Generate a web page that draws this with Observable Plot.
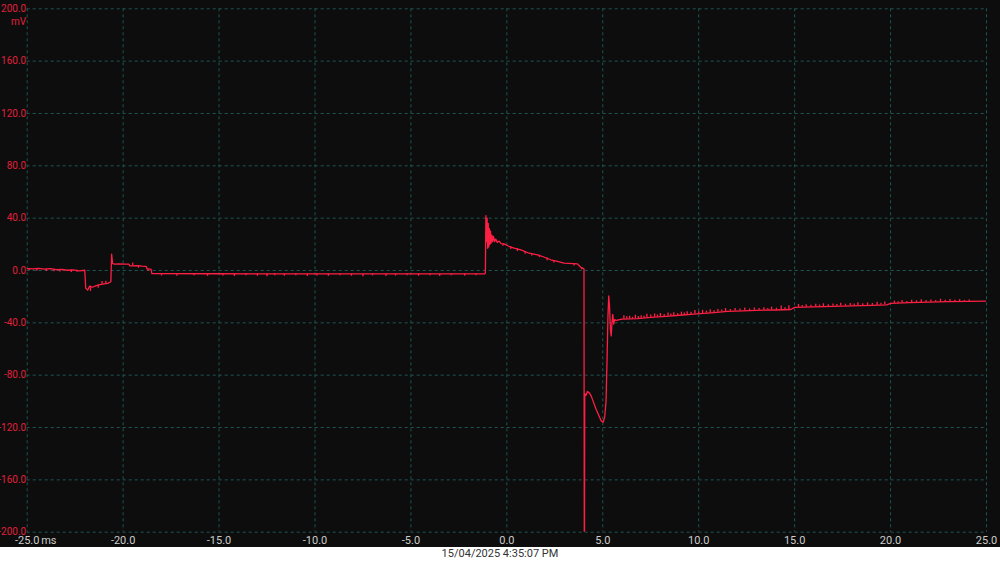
<!DOCTYPE html>
<html>
<head>
<meta charset="utf-8">
<script src="https://cdn.jsdelivr.net/npm/d3@7"></script>
<script src="https://cdn.jsdelivr.net/npm/@observablehq/plot@0.6"></script>
<style>
  html, body { margin: 0; padding: 0; background: #ffffff; }
  #chart svg { display: block; background: #0d0d0d; }
  #caption { height: 15px; line-height: 15px; text-align: center; font: 11px Roboto, sans-serif; color: #333; background: #fff; }
</style>
</head>
<body>
<div id="chart"></div>
<div id="caption"></div>
<script>
// ---- Data (time in ms, voltage in mV) ----
const xTicks = [-25, -20, -15, -10, -5, 0, 5, 10, 15, 20, 25];
const yTicks = [200, 160, 120, 80, 40, 0, -40, -80, -120, -160, -200];
const xUnit = "ms";
const yUnit = "mV";
const timestamp = "15/04/2025 4:35:07 PM";

const preTrigger = [
  [-25.0,1.5],[-24.7,1.2],[-24.4,1.6],[-24.1,1.0],[-23.8,1.4],[-23.5,0.6],[-23.2,0.9],[-22.9,0.2],
  [-22.6,0.5],[-22.3,-0.3],[-22.0,0.2],[-21.95,-13.5],[-21.85,-15],[-21.75,-12],[-21.6,-12.8],
  [-21.4,-11.5],[-21.2,-10.8],[-21.0,-10.2],[-20.8,-9.8],[-20.64,-8.6],[-20.6,12.5],[-20.55,5.5],
  [-20.45,4.8],[-20.2,5.0],[-19.9,4.8],[-19.7,4.8],[-19.65,3.6],[-19.3,3.8],[-19.0,3.4],[-18.8,3.2],
  [-18.75,1.2],[-18.55,1.0],[-18.5,-2.4]
];
const flatSegment = [
  [-18.5,-2.4],[-15.0,-2.5],[-10.0,-2.6],[-5.0,-2.6],[-1.15,-2.6]
];
const pulseDecay = [
  [-1.15,-2.6],[-1.12,-1.5],[-1.09,42],[-1.06,22],[-1.03,40],[-1.0,17],[-0.97,36],[-0.94,18],
  [-0.91,32],[-0.88,20],[-0.85,30],[-0.82,21],[-0.78,27],[-0.74,22],[-0.7,26],[-0.64,22],
  [-0.58,24],[-0.5,21.5],[-0.4,22.5],[-0.3,20.5],[-0.14,20.4],[0.1,18.5],[0.38,17.1],[0.73,15.8],
  [1.16,13.2],[1.6,12.0],[1.86,10.7],[2.29,8.2],[2.64,6.9],[2.98,5.6],[3.68,5.1],[3.85,2.5],[4.02,1.3]
];
const dropRecovery = [
  [4.02,1.3],[4.04,-260],[4.06,-94],[4.12,-95.5],[4.2,-92.5],[4.3,-93.5],[4.4,-96],[4.5,-100],
  [4.65,-106],[4.8,-111],[4.92,-115],[5.02,-116],[5.1,-112],[5.17,-100],[5.22,-70],[5.27,-35],
  [5.31,-19.5],[5.35,-27],[5.4,-45],[5.44,-50],[5.48,-40],[5.52,-33.5],[5.57,-41],[5.62,-37.5],[5.7,-38.2]
];
const tailSegment = [
  [5.7,-38.2],[6.0,-37.2],[6.8,-36.8],[7.5,-35.8],[8.3,-35.0],[9.0,-34.2],[9.9,-33.2],[10.8,-32.2],
  [11.5,-31.2],[12.3,-30.8],[13.0,-30.4],[14.0,-30.2],[14.8,-29.8],[15.0,-28.2],[16.0,-27.8],
  [17.0,-27.4],[18.0,-27.0],[19.0,-26.6],[19.8,-26.2],[20.0,-25.2],[21.0,-24.6],[22.0,-24.2],
  [23.0,-23.8],[24.0,-23.6],[25.0,-23.4]
];
// noise spikes: [time, from mV, to mV]
const noiseSpikes = [
  [-24.9,1.5,0],[-24.5,1.2,-0.5],[-24.0,1.1,-0.8],[-23.6,1.0,-1.0],[-23.3,0.8,-1.2],[-22.7,0.4,-1.5],
  [-22.4,0.2,-1.3],[-21.7,-12,-16],[-21.3,-11,-13.5],[-21.1,-10.5,-8.5],[-20.9,-10,-8.2],
  [-19.5,3.8,5.8],[-19.2,3.6,1.8],[-18.7,1.1,-0.8],
  [-18.0,-2.4,-4.2],[-17.2,-2.4,-4.4],[-16.3,-2.5,-4.0],[-15.6,-2.5,-4.5],[-14.8,-2.5,-4.2],
  [-14.2,-2.5,-4.6],[-13.6,-2.5,-4.0],[-13.0,-2.5,-4.4],[-12.5,-2.5,-4.8],[-12.1,-2.5,-4.1],
  [-11.6,-2.6,-4.4],[-11.0,-2.6,-4.0],[-10.4,-2.6,-4.6],[-9.9,-2.6,-4.2],[-9.3,-2.6,-4.5],
  [-8.7,-2.6,-4.0],[-8.1,-2.6,-4.4],[-7.5,-2.6,-4.7],[-7.0,-2.6,-4.1],[-6.3,-2.6,-4.5],
  [-5.8,-2.6,-4.2],[-5.2,-2.6,-4.0],[-4.6,-2.6,-4.4],[-4.0,-2.6,-4.1],[-3.5,-2.6,-4.6],
  [-2.9,-2.6,-4.0],[-2.2,-2.6,-4.3],[-1.6,-2.6,-4.1],
  [-0.2,20.5,18.5],[0.2,18,16],[0.55,16.5,14.5],[0.95,14.5,12.5],[1.3,12.8,11],[1.7,11.6,9.8],
  [2.1,9.5,7.5],[2.45,7.5,5.8],[3.5,5.2,3.5],[3.9,2.3,0.5],
  [6.1,-37.1,-34.6],[6.25,-37.1,-35.4],[6.4,-37.0,-35.0],[6.55,-37.0,-35.8],[6.7,-36.9,-34.2],
  [6.85,-36.8,-35.2],[7.0,-36.5,-34.5],[7.15,-36.3,-35.0],[7.3,-36.1,-33.4],[7.5,-35.8,-34.0],
  [7.7,-35.6,-33.2],[7.85,-35.5,-34.0],[8.0,-35.3,-32.8],[8.2,-35.1,-33.6],[8.4,-34.9,-32.5],
  [8.55,-34.8,-33.2],[8.7,-34.6,-32.2],[8.9,-34.3,-33.0],[9.1,-34.1,-31.8],[9.25,-34.0,-32.4],
  [9.4,-33.8,-31.5],[9.6,-33.5,-32.0],[9.8,-33.3,-30.6],[10.0,-33.1,-31.6],[10.2,-32.9,-30.4],
  [10.4,-32.6,-31.0],[10.6,-32.4,-30.0],[10.8,-32.2,-30.8],[11.0,-32.0,-29.8],[11.2,-31.6,-30.2],
  [11.4,-31.3,-29.1],[11.65,-31.1,-29.8],[11.9,-31.0,-29.0],[12.15,-30.9,-29.5],[12.4,-30.8,-28.7],
  [12.65,-30.6,-29.4],[12.9,-30.4,-28.6],[13.15,-30.4,-29.0],[13.4,-30.3,-28.4],[13.6,-30.2,-29.0],
  [13.8,-30.2,-28.0],[14.05,-30.2,-28.8],[14.3,-30.1,-27.2],[14.5,-30.0,-28.4],[14.7,-29.9,-27.0],
  [15.2,-28.1,-26.0],[15.4,-28.0,-26.8],[15.6,-28.0,-26.2],[15.85,-27.9,-26.6],[16.1,-27.8,-25.8],
  [16.3,-27.7,-26.4],[16.5,-27.6,-25.4],[16.75,-27.5,-26.2],[17.0,-27.4,-25.6],[17.2,-27.3,-26.0],
  [17.4,-27.2,-25.0],[17.65,-27.1,-25.8],[17.9,-27.0,-25.2],[18.1,-26.9,-25.6],[18.3,-26.9,-24.6],
  [18.55,-26.8,-25.4],[18.8,-26.7,-24.8],[19.05,-26.6,-25.2],[19.3,-26.5,-24.2],[19.5,-26.4,-25.0],
  [19.7,-26.3,-24.0],[20.2,-25.1,-23.4],[20.4,-25.0,-23.8],[20.6,-24.9,-23.0],[20.85,-24.8,-23.6],
  [21.1,-24.6,-22.8],[21.35,-24.5,-23.2],[21.6,-24.4,-22.4],[21.85,-24.3,-23.0],[22.1,-24.2,-22.5],
  [22.35,-24.1,-23.0],[22.6,-24.0,-22.0],[22.85,-23.9,-22.8],[23.1,-23.8,-22.1],[23.35,-23.8,-22.8],
  [23.6,-23.7,-22.3],[23.85,-23.6,-22.9],[24.1,-23.6,-22.6]
];

// ---- Build ----
const trace = [...preTrigger, ...flatSegment.slice(1), ...pulseDecay.slice(1), ...dropRecovery.slice(1), ...tailSegment.slice(1)]
  .map(([t, v]) => ({t, v}));
const spikes = noiseSpikes.map(([t, a, b]) => ({t, a, b}));

const traceColor = "#ff1f44";
const gridColor = "#1d5656";
const font = "Roboto, 'Noto Sans', sans-serif";

const chart = Plot.plot({
  width: 1000,
  height: 547,
  marginLeft: 26.7,
  marginRight: 14,
  marginTop: 8.3,
  marginBottom: 15.3,
  style: {background: "#0d0d0d", fontFamily: font},
  x: {domain: [-25, 25]},
  y: {domain: [-200, 200]},
  marks: [
    Plot.gridX(xTicks, {stroke: gridColor, strokeOpacity: 1, strokeDasharray: "3,3"}),
    Plot.gridY(yTicks, {stroke: gridColor, strokeOpacity: 1, strokeDasharray: "3,3"}),
    Plot.ruleX(spikes, {x: "t", y1: "a", y2: "b", stroke: traceColor, strokeWidth: 1.3}),
    Plot.line(trace, {x: "t", y: "v", stroke: traceColor, strokeWidth: 1.3, clip: true}),
    Plot.axisX({ticks: xTicks, tickSize: 0, tickPadding: 4, tickFormat: d => d.toFixed(1), fill: "#cccccc", fontSize: 11, label: null}),
    Plot.axisY({ticks: yTicks, tickSize: 0, tickPadding: 1, tickFormat: d => d.toFixed(1), fill: "#e0203c", fontSize: 10, label: null}),
    Plot.text([xUnit], {x: () => -25, y: () => -200, text: d => d, textAnchor: "start", lineAnchor: "top", dx: 14, dy: 4, fill: "#cccccc", fontSize: 11}),
    Plot.text([yUnit], {x: () => -25, y: () => 200, text: d => d, textAnchor: "end", dx: -1, dy: 13, fill: "#e0203c", fontSize: 10})
  ]
});
document.getElementById("chart").appendChild(chart);
document.getElementById("caption").textContent = timestamp;
</script>
</body>
</html>
